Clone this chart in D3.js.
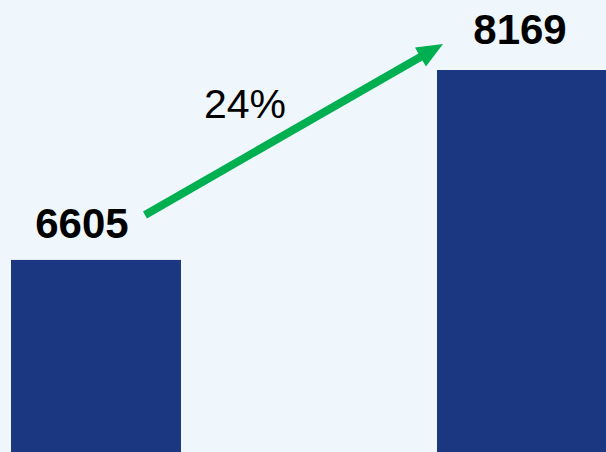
<!DOCTYPE html>
<html><head><meta charset="utf-8">
<script src="https://cdn.jsdelivr.net/npm/d3@7"></script>
<style>html,body{margin:0;padding:0;background:#eff7fc;overflow:hidden}</style>
</head><body>
<script>
const categories = ["Before", "After"];
const values = [6605, 8169];
const changeLabel = ["24%"];

const W = 606, H = 452;
const svg = d3.select("body").append("svg").attr("width", W).attr("height", H);
svg.append("rect").attr("width", W).attr("height", H).attr("fill", "#eff7fc");

const x = d3.scaleBand().domain(categories).range([11, 607]).paddingInner(0.601).paddingOuter(0);
const y = d3.scaleLinear().domain([0, 8169]).range([1062, 70]);

svg.selectAll("rect.bar").data(values).join("rect").attr("class", "bar")
  .attr("x", (d, i) => x(categories[i]))
  .attr("y", d => y(d))
  .attr("width", x.bandwidth())
  .attr("height", d => H + 10 - y(d))
  .attr("fill", "#1b3781");

const labelDx = [-14, -2];
const labelDy = [-22, -26];
svg.selectAll("text.val").data(values).join("text").attr("class", "val")
  .attr("x", (d, i) => x(categories[i]) + x.bandwidth() / 2 + labelDx[i])
  .attr("y", (d, i) => y(d) + labelDy[i])
  .attr("text-anchor", "middle")
  .attr("font-family", "'Liberation Sans', Arial, sans-serif")
  .attr("font-weight", "bold").attr("font-size", 42).attr("fill", "#000")
  .text(d => d);

// arrow
const x0 = x(categories[0]) + x.bandwidth() / 2 + 49, y0 = y(values[0]) - 45;
const x1 = x(categories[1]) + 6, y1 = y(values[1]) - 26;
const ang = Math.atan2(y1 - y0, x1 - x0);
const headLen = 26, headHalf = 11;
const bx = x1 - headLen * Math.cos(ang), by = y1 - headLen * Math.sin(ang);
svg.append("line").attr("x1", x0).attr("y1", y0).attr("x2", bx + 2 * Math.cos(ang)).attr("y2", by + 2 * Math.sin(ang))
  .attr("stroke", "#00b050").attr("stroke-width", 8);
const px = -Math.sin(ang), py = Math.cos(ang);
svg.append("path")
  .attr("d", `M${x1},${y1}L${bx + px * headHalf},${by + py * headHalf}L${bx - px * headHalf},${by - py * headHalf}Z`)
  .attr("fill", "#00b050");

svg.append("text").attr("x", (x0 + x1) / 2 - 49).attr("y", (y0 + y1) / 2 - 11)
  .attr("text-anchor", "middle")
  .attr("font-family", "'Liberation Sans', Arial, sans-serif")
  .attr("font-size", 41).attr("fill", "#000")
  .text(changeLabel[0]);
</script>
</body></html>
